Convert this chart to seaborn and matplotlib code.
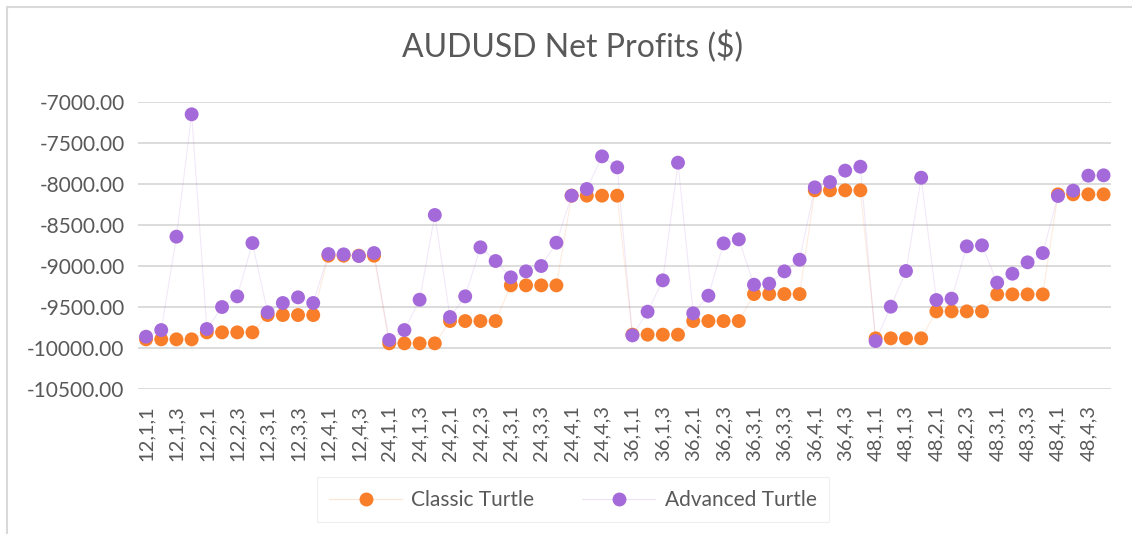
import seaborn as sns
import matplotlib.pyplot as plt
from matplotlib.lines import Line2D
from matplotlib.colors import to_rgba
import pandas as pd

# category labels: period, param a, param b
periods = [12, 24, 36, 48]
params_a = [1, 2, 3, 4]
params_b = [1, 2, 3, 4]
labels = [f"{p},{a},{b}" for p in periods for a in params_a for b in params_b]

classic = [
    -9898, -9898, -9898, -9898, -9813, -9813, -9813, -9813,
    -9602, -9602, -9602, -9602, -8878, -8878, -8878, -8878,
    -9947, -9947, -9947, -9947, -9675, -9675, -9675, -9675,
    -9240, -9240, -9240, -9240, -8146, -8146, -8146, -8146,
    -9841, -9841, -9841, -9841, -9675, -9675, -9675, -9675,
    -9346, -9346, -9346, -9346, -8081, -8081, -8081, -8081,
    -9886, -9886, -9886, -9886, -9557, -9557, -9557, -9557,
    -9350, -9350, -9350, -9350, -8130, -8130, -8130, -8130,
]
advanced = [
    -9866, -9785, -8646, -7154, -9772, -9504, -9374, -8724,
    -9569, -9455, -9386, -9455, -8858, -8862, -8882, -8846,
    -9906, -9785, -9415, -8382, -9626, -9374, -8776, -8943,
    -9142, -9069, -9004, -8720, -8146, -8065, -7667, -7801,
    -9850, -9561, -9179, -7744, -9581, -9366, -8728, -8679,
    -9232, -9219, -9069, -8927, -8045, -7980, -7841, -7793,
    -9919, -9500, -9065, -7927, -9419, -9402, -8764, -8752,
    -9207, -9098, -8959, -8846, -8150, -8085, -7902, -7898,
]

orange = "#F97E2A"
purple = "#A56AD9"
grey = "#595959"

df = pd.DataFrame({"idx": range(len(labels)), "label": labels,
                   "Classic Turtle": classic, "Advanced Turtle": advanced})

sns.set_style("white")
plt.rcParams["font.family"] = ["Lato", "DejaVu Sans"]

fig = plt.figure(figsize=(11.32, 5.34), dpi=100)
ax = fig.add_axes([0.1223, 0.2721, 0.8593, 0.5375])

for name, col in [("Classic Turtle", orange), ("Advanced Turtle", purple)]:
    sns.lineplot(data=df, x="idx", y=name, color=col, alpha=0.15, lw=0.8, ax=ax)
    sns.scatterplot(data=df, x="idx", y=name, color=col, s=100, edgecolor="none", ax=ax, zorder=3)

ax.set_xlim(-0.5, len(labels) - 0.5)
ax.set_ylim(-10500, -7000)
ax.set_yticks(range(-10500, -6999, 500))
ax.set_yticklabels([f"{v:.2f}" for v in range(-10500, -6999, 500)], color=grey, fontsize=15)
ax.set_xticks(range(0, len(labels), 2))
ax.set_xticklabels(labels[::2], rotation=90, color=grey, fontsize=14.5)
ax.tick_params(axis="both", length=0, pad=10)
ax.tick_params(axis="x", pad=12)
ax.grid(axis="y", color="#d9d9d9", lw=1.3)
ax.set_axisbelow(True)
for s in ax.spines.values():
    s.set_visible(False)
ax.set_xlabel("")
ax.set_ylabel("")

fig.text(0.506, 0.912, "AUDUSD Net Profits ($)", ha="center", va="center",
         fontsize=23, color=grey)

handles = [Line2D([0], [0], color=to_rgba(c, 0.2), lw=0.8, marker="o", markersize=9,
                  markerfacecolor=c, markeredgecolor=c) for c in (orange, purple)]
leg = fig.legend(handles, ["Classic Turtle", "Advanced Turtle"], loc="center",
                 bbox_to_anchor=(0.506, 0.0637), ncol=2, frameon=True, fancybox=False,
                 fontsize=15, handlelength=3.5, handletextpad=0.45, columnspacing=2.3,
                 borderpad=0.6, borderaxespad=0, labelcolor=grey)
leg.get_frame().set_edgecolor("#ececec")
leg.get_frame().set_linewidth(0.8)

# chart area border
fig.add_artist(Line2D([6.5 / 1132, 6.5 / 1132], [0, 1 - 6.7 / 534], transform=fig.transFigure,
                      color="#d9d9d9", lw=1.5))
fig.add_artist(Line2D([6.5 / 1132, 1], [1 - 6.7 / 534, 1 - 6.7 / 534], transform=fig.transFigure,
                      color="#d9d9d9", lw=1.5))

fig.savefig("out.png", dpi=100)
